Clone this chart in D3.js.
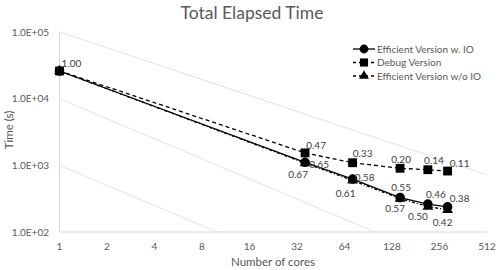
<!DOCTYPE html>
<html>
<head>
<meta charset="utf-8">
<script src="https://cdn.jsdelivr.net/npm/d3@7"></script>
<style>
  body { margin: 0; background: #fff; }
  text { font-family: Lato, "Open Sans", sans-serif; }
</style>
</head>
<body>
<div class="chart"></div>
<script>
// cores used in the runs
const cores = [1, 36, 72, 144, 216, 288]

// elapsed time (s)
const timeWithIO = [26000, 1111, 623, 328, 262, 238]
const timeDebug = [26000, 1537, 1094, 903, 860, 821]
const timeWithoutIO = [26000, 1078, 592, 317, 241, 215]

// parallel efficiency labels shown next to the markers
const effWithIO = ['', '0.65', '0.58', '0.55', '0.46', '0.38']
const effDebug = ['1.00', '0.47', '0.33', '0.20', '0.14', '0.11']
const effWithoutIO = ['', '0.67', '0.61', '0.57', '0.50', '0.42']

const xTicks = [1, 2, 4, 8, 16, 32, 64, 128, 256, 512]
const yTicks = [100, 1000, 10000, 100000]

// light reference lines [cores, time] -> [cores, time]
const refLines = [
  [[1, 100000], [512, 720]],
  [[1, 10000], [100, 100]],
  [[1, 1000], [10, 100]]
]

const width = 500
const height = 270

const svg = d3.select('.chart')
  .append('svg')
  .attr('width', width)
  .attr('height', height)

const x = d3.scaleLog().base(2).domain([1, 512]).range([59.5, 487])
const y = d3.scaleLog().domain([100, 100000]).range([232, 32])

// title
svg.append('text')
  .attr('x', 252)
  .attr('y', 19)
  .attr('text-anchor', 'middle')
  .attr('font-size', 17.5)
  .attr('fill', '#595959')
  .text('Total Elapsed Time')

// axes lines
svg.append('line')
  .attr('x1', x(1)).attr('x2', x(1))
  .attr('y1', y(100000)).attr('y2', y(100))
  .attr('stroke', '#d9d9d9')
svg.append('line')
  .attr('x1', x(1)).attr('x2', x(512))
  .attr('y1', y(100)).attr('y2', y(100))
  .attr('stroke', '#d9d9d9')

// reference lines
svg.append('g')
  .selectAll('line')
  .data(refLines)
  .enter()
  .append('line')
  .attr('x1', d => x(d[0][0]))
  .attr('y1', d => y(d[0][1]))
  .attr('x2', d => x(d[1][0]))
  .attr('y2', d => y(d[1][1]))
  .attr('stroke', '#e3e3e3')
  .attr('stroke-width', 1)

// y tick labels
svg.append('g')
  .selectAll('text')
  .data(yTicks)
  .enter()
  .append('text')
  .attr('x', 49)
  .attr('y', d => y(d))
  .attr('dy', '0.35em')
  .attr('text-anchor', 'end')
  .attr('font-size', 10)
  .attr('fill', '#595959')
  .text(d => d3.format('.1e')(d).replace('e+', 'E+0').toUpperCase())

// x tick labels
svg.append('g')
  .selectAll('text')
  .data(xTicks)
  .enter()
  .append('text')
  .attr('x', d => x(d))
  .attr('y', 250)
  .attr('text-anchor', 'middle')
  .attr('font-size', 10)
  .attr('fill', '#595959')
  .text(d => d)

// axis titles
svg.append('text')
  .attr('x', 273)
  .attr('y', 266)
  .attr('text-anchor', 'middle')
  .attr('font-size', 11.5)
  .attr('fill', '#595959')
  .text('Number of cores')

svg.append('text')
  .attr('transform', 'translate(13, 130) rotate(-90)')
  .attr('text-anchor', 'middle')
  .attr('font-size', 11.5)
  .attr('fill', '#595959')
  .text('Time (s)')

const line = d3.line()
  .x((d, i) => x(cores[i]))
  .y(d => y(d))

const series = [
  { name: 'Efficient Version w/o IO', values: timeWithoutIO, labels: effWithoutIO, marker: 'triangle', dash: '3,2,1,2',
    dx: [0, -7, -7, -5, -10, -5], dy: [0, 11, 13, 10, 10, 13] },
  { name: 'Efficient Version w. IO', values: timeWithIO, labels: effWithIO, marker: 'circle', dash: null,
    dx: [0, 14, 12, 1, 8, 12], dy: [0, 2, -2, -10, -10, -8] },
  { name: 'Debug Version', values: timeDebug, labels: effDebug, marker: 'square', dash: '4,3',
    dx: [12, 11, 10, 1, 6, 12], dy: [-8, -7, -9, -9, -9, -8] }
]

const symbolType = {
  circle: d3.symbolCircle,
  square: d3.symbolSquare,
  triangle: d3.symbolTriangle
}
const symbolSize = { circle: 72, square: 78, triangle: 50 }

series.forEach(s => {
  const g = svg.append('g')
  g.append('path')
    .datum(s.values)
    .attr('d', line)
    .attr('fill', 'none')
    .attr('stroke', '#000')
    .attr('stroke-width', 1.3)
    .attr('stroke-dasharray', s.dash)

  g.selectAll('.marker')
    .data(s.values)
    .enter()
    .append('path')
    .attr('class', 'marker')
    .attr('transform', (d, i) => `translate(${x(cores[i])},${y(d)})`)
    .attr('d', d3.symbol().type(symbolType[s.marker]).size(symbolSize[s.marker]))
    .attr('fill', '#000')
})

// data labels on top of everything
series.forEach(s => {
  svg.append('g')
    .selectAll('text')
    .data(s.values)
    .enter()
    .append('text')
    .attr('x', (d, i) => x(cores[i]) + s.dx[i])
    .attr('y', (d, i) => y(d) + s.dy[i])
    .attr('dy', '0.35em')
    .attr('text-anchor', 'middle')
    .attr('font-size', 10)
    .attr('fill', '#404040')
    .text((d, i) => s.labels[i])
})

// legend
const legendOrder = [series[1], series[2], series[0]]
const legend = svg.append('g')
  .attr('transform', 'translate(353, 49)')

const items = legend.selectAll('g')
  .data(legendOrder)
  .enter()
  .append('g')
  .attr('transform', (d, i) => `translate(0, ${i * 13.5})`)

items.append('line')
  .attr('x1', 0).attr('x2', 22)
  .attr('stroke', '#000')
  .attr('stroke-width', 1.3)
  .attr('stroke-dasharray', d => d.dash ? '3,3' : null)

items.append('path')
  .attr('transform', 'translate(11, 0)')
  .attr('d', d => d3.symbol().type(symbolType[d.marker]).size(symbolSize[d.marker] * 0.85)())
  .attr('fill', '#000')

items.append('text')
  .attr('x', 24)
  .attr('dy', '0.35em')
  .attr('font-size', 10)
  .attr('fill', '#595959')
  .text(d => d.name)
</script>
</body>
</html>
